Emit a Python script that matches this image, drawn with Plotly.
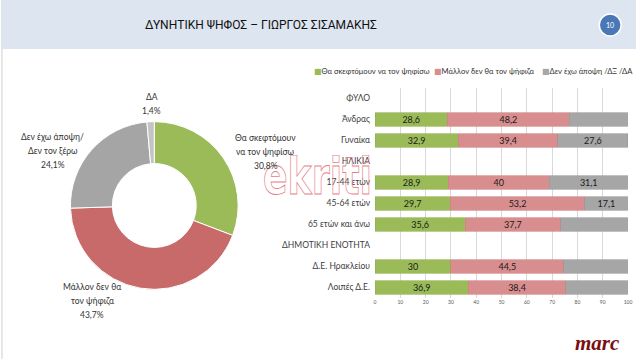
import base64
import plotly.graph_objects as go

W, H = 640, 359

# ---------------- data ----------------
title_text = "ΔΥΝΗΤΙΚΗ ΨΗΦΟΣ – ΓΙΩΡΓΟΣ ΣΙΣΑΜΑΚΗΣ"
page_no = "10"

pie_labels = ["Θα σκεφτόμουν<br>να τον ψηφίσω", "Μάλλον δεν θα<br>τον ψήφιζα",
              "Δεν έχω άποψη/<br>Δεν τον ξέρω", "ΔΑ"]
pie_values = [30.8, 43.7, 24.1, 1.4]

categories = ["ΦΥΛΟ", "Άνδρας", "Γυναίκα", "ΗΛΙΚΙΑ", "17-44 ετών", "45-64 ετών",
              "65 ετών και άνω", "ΔΗΜΟΤΙΚΗ ΕΝΟΤΗΤΑ", "Δ.Ε. Ηρακλείου", "Λοιπές Δ.Ε."]
series_names = ["Θα σκεφτόμουν να τον ψηφίσω", "Μάλλον δεν θα τον ψήφιζα",
                "Δεν έχω άποψη /ΔΞ /ΔΑ"]
would_consider = [None, 28.6, 32.9, None, 28.9, 29.7, 35.6, None, 30, 36.9]
would_not = [None, 48.2, 39.4, None, 40, 53.2, 37.7, None, 44.5, 38.4]
no_opinion = [None, 23.2, 27.6, None, 31.1, 17.1, 26.7, None, 25.6, 24.8]
x_ticks = [0, 10, 20, 30, 40, 50, 60, 70, 80, 90, 100]

# ---------------- styles ----------------
FONT = "Lato, 'Noto Sans', 'DejaVu Sans', sans-serif"
TITLE_FONT = "'Liberation Sans Narrow', Roboto, 'Noto Sans', sans-serif"
pie_colors = ["#9bbb59", "#c8696a", "#a5a5a5", "#c4c4c4"]
bar_colors = ["#9bbb59", "#d88e8e", "#a6a6a6"]
bar_lines = ["#8fb04c", "#d07f80", "#999999"]


def px(x):
    return x / W


def py(y):
    return 1 - y / H


def fmt(v):
    return ("%g" % v).replace(".", ",")


def note(text, x, y, size, color="#333333", xanchor="center", **font_kw):
    return dict(text=text, x=px(x), y=py(y), xref="paper", yref="paper",
                xanchor=xanchor, yanchor="middle", showarrow=False,
                font=dict(family=font_kw.pop("family", FONT), size=size, color=color,
                          **font_kw))


fig = go.Figure()

# donut
fig.add_trace(go.Pie(
    labels=[l.replace("<br>", " ") for l in pie_labels], values=pie_values,
    hole=0.5, sort=False, direction="clockwise", rotation=0,
    marker=dict(colors=pie_colors, line=dict(color="white", width=1)),
    textinfo="none", showlegend=False,
    domain=dict(x=[px(70), px(239)], y=[py(290), py(121)]),
))

# stacked bars
for name, vals, col, lc in zip(series_names, [would_consider, would_not, no_opinion],
                               bar_colors, bar_lines):
    fig.add_trace(go.Bar(
        y=categories, x=vals, name=name, orientation="h",
        marker=dict(color=col, line=dict(color=lc, width=0.6)),
        width=0.62,
        text=[fmt(v) if v is not None else "" for v in vals],
        textposition="inside", insidetextanchor="middle", textangle=0,
        constraintext="none",
        textfont=dict(family=FONT, size=9, color="#1a1a1a"),
        showlegend=False, cliponaxis=False,
    ))

shapes = [
    # header band
    dict(type="rect", xref="paper", yref="paper", x0=0, x1=1, y0=py(49), y1=1,
         fillcolor="#dde5f0", line=dict(width=0), layer="below"),
    # left slide border
    dict(type="line", xref="paper", yref="paper", x0=px(1), x1=px(1), y0=0, y1=py(49),
         line=dict(color="#cfcfcf", width=1)),
    # page badge
    dict(type="circle", xref="paper", yref="paper", x0=px(603), x1=px(625),
         y0=py(36), y1=py(14), fillcolor="#4a78b6", line=dict(color="white", width=1.5)),
]

annotations = [
    note(title_text, 262, 25, 12, color="#111111", family=TITLE_FONT),
    note(page_no, 614, 25, 7, color="white"),
    note("marc", 601, 343, 21, color="#7a0f12",
         family="'Liberation Serif', 'DejaVu Serif', serif", style="italic", weight="bold"),
]

# pie labels, one annotation per line
label_pos = [(267, 138), (92, 287), (52, 137), (152, 97)]
for lab, val, (cx, cy) in zip(pie_labels, pie_values, label_pos):
    lines = lab.split("<br>") + [fmt(val) + "%"]
    for i, ln in enumerate(lines):
        annotations.append(note(ln, cx, cy + i * 14, 8.5))

# legend (manual, compact)
leg_x = [313, 434, 543]
for name, col, lx in zip(series_names, bar_colors, leg_x):
    annotations.append(note("<span style='color:%s;font-size:8px'>■</span>%s" % (col, name),
                            lx, 71, 7.6, xanchor="left"))

# watermark as outlined svg text
svg = ("<svg xmlns='http://www.w3.org/2000/svg' width='112' height='42' viewBox='0 0 112 42'>"
       "<text x='1' y='39' textLength='110' lengthAdjust='spacingAndGlyphs' "
       "font-family='DejaVu Sans' font-weight='bold' font-size='52' fill='none' "
       "stroke='#e8808a' stroke-width='0.9'>ekriti</text></svg>")
src = "data:image/svg+xml;base64," + base64.b64encode(svg.encode()).decode()

fig.update_layout(
    width=W, height=H, margin=dict(l=0, r=0, t=0, b=0),
    paper_bgcolor="white", plot_bgcolor="white",
    barmode="stack", bargap=0.38,
    font=dict(family=FONT),
    shapes=shapes, annotations=annotations,
    images=[dict(source=src, xref="paper", yref="paper", x=px(263), y=py(155),
                 sizex=px(112), sizey=42 / H, xanchor="left", yanchor="top",
                 sizing="stretch", layer="above", opacity=1)],
    xaxis=dict(domain=[px(377), px(632)], range=[0, 100], tickvals=x_ticks,
               showgrid=True, gridcolor="#d9d9d9", gridwidth=1, zeroline=False,
               tickfont=dict(family=FONT, size=5, color="#595959"),
               ticks="", showline=False, fixedrange=True),
    yaxis=dict(domain=[py(298), py(88)], type="category", autorange="reversed",
               categoryorder="array", categoryarray=categories,
               tickfont=dict(family=FONT, size=8.5, color="#404040"),
               ticks="", ticklabelstandoff=4, showgrid=False, fixedrange=True),
)

fig.write_html("out.html", config={"displayModeBar": False, "staticPlot": True},
               post_script="document.body.style.margin='0';"
                           "document.body.style.overflow='hidden';")
